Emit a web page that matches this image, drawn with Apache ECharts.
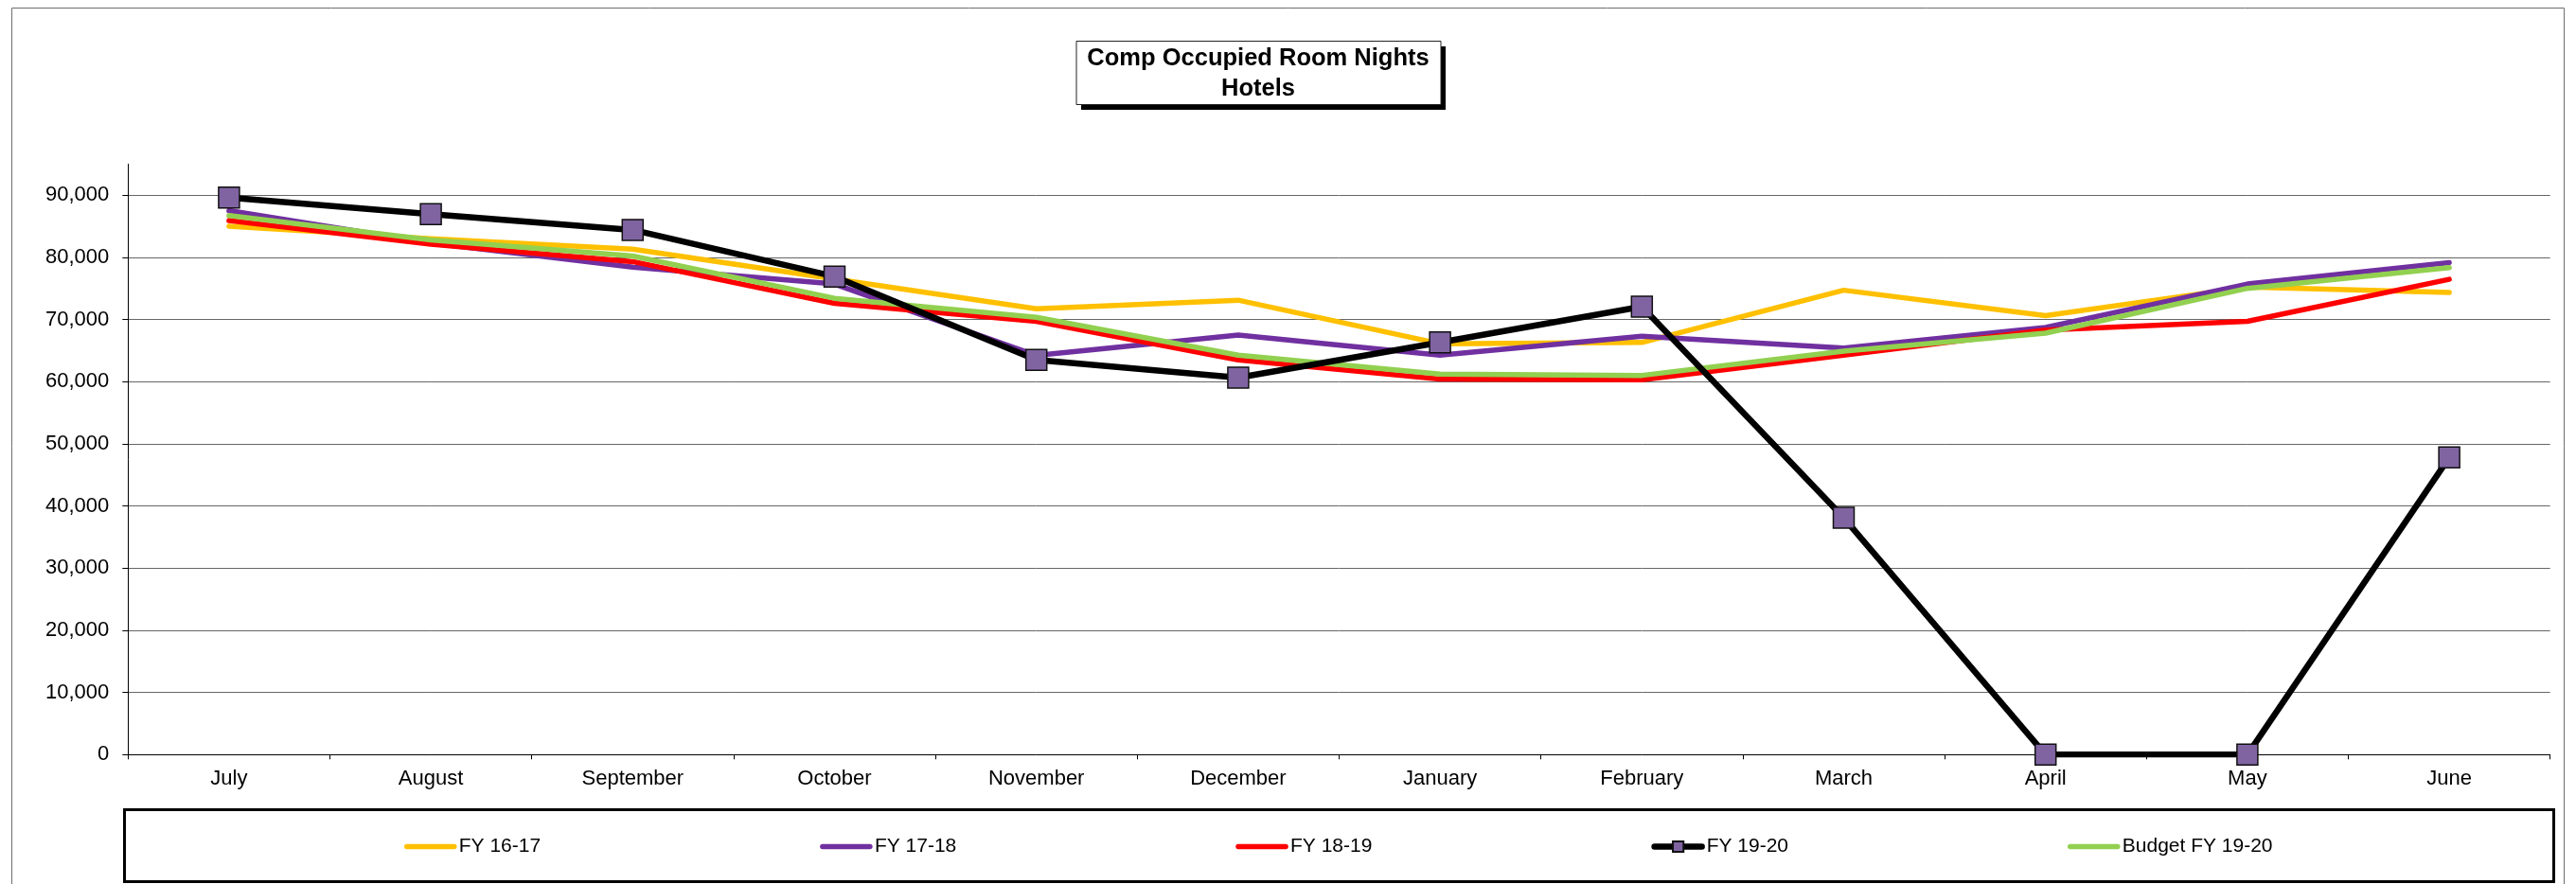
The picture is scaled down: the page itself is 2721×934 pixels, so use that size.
<!DOCTYPE html>
<html>
<head>
<meta charset="utf-8">
<script src="https://cdn.jsdelivr.net/npm/echarts@6/dist/echarts.min.js"></script>
<style>
  html, body { margin: 0; padding: 0; background: #fff; }
  #chart { width: 2721px; height: 934px; }
</style>
</head>
<body>
<div id="chart"></div>
<script>
// Fiscal-year months, July through June
const months = ['July', 'August', 'September', 'October', 'November', 'December',
                'January', 'February', 'March', 'April', 'May', 'June'];

// Comp occupied room nights per month
const fy1617   = [85000, 83000, 81300, 76500, 71700, 73100, 66100, 66300, 74700, 70600, 75200, 74350];
const fy1718   = [87500, 82300, 78400, 75700, 64200, 67500, 64250, 67300, 65400, 68700, 75700, 79150];
const fy1819   = [85900, 82100, 79300, 72600, 69700, 63500, 60400, 60300, 64250, 68300, 69700, 76450];
const fy1920   = [89600, 86950, 84400, 76900, 63500, 60650, 66300, 72050, 38100, 0, 0, 47800];
const budget1920 = [86700, 82800, 80200, 73400, 70350, 64250, 61200, 61000, 64900, 67800, 75000, 78350];

// Value axis tick labels
const yTicks = [0, 10000, 20000, 30000, 40000, 50000, 60000, 70000, 80000, 90000];

const FONT = '"Liberation Sans", Arial, Helvetica, sans-serif';

const chart = echarts.init(document.getElementById('chart'), null, { renderer: 'canvas' });

function lineSeries(name, data, color, z) {
  return {
    name: name,
    type: 'line',
    data: data,
    z: z,
    symbol: 'none',
    smooth: false,
    lineStyle: { color: color, width: 5.5, cap: 'round', join: 'round' },
    itemStyle: { color: color }
  };
}

function legendLine(name, color) {
  return {
    name: name,
    itemStyle: { opacity: 0 },
    lineStyle: { color: color, width: 5.5, cap: 'round' }
  };
}

const option = {
  animation: false,
  backgroundColor: '#fff',
  title: {
    text: 'Comp Occupied Room Nights\nHotels',
    left: 1329,
    top: 46,
    padding: 0,
    textAlign: 'center',
    textStyle: {
      fontFamily: FONT,
      fontSize: 25.5,
      fontWeight: 'bold',
      color: '#000',
      lineHeight: 32
    }
  },
  graphic: [
    // outer chart frame
    { type: 'rect', z: -10, silent: true,
      shape: { x: 12.5, y: 8.5, width: 2696, height: 1000 },
      style: { fill: null, stroke: '#6e6e6e', lineWidth: 1 } },
    // title box shadow and frame
    { type: 'rect', z: -5, silent: true,
      shape: { x: 1142, y: 49, width: 385, height: 67 },
      style: { fill: '#000' } },
    { type: 'rect', z: -4, silent: true,
      shape: { x: 1137, y: 43.5, width: 385, height: 67 },
      style: { fill: '#fff', stroke: '#222', lineWidth: 1 } },
    // legend frame
    { type: 'rect', z: -5, silent: true,
      shape: { x: 131.5, y: 855.5, width: 2566, height: 76 },
      style: { fill: '#fff', stroke: '#000', lineWidth: 3 } }
  ],
  legend: {
    left: 427,
    top: 884,
    padding: 0,
    itemWidth: 50,
    itemHeight: 14,
    itemGap: 295,
    textStyle: { fontFamily: FONT, fontSize: 21, color: '#000' },
    data: [
      legendLine('FY 16-17', '#FFC000'),
      legendLine('FY 17-18', '#7030A0'),
      legendLine('FY 18-19', '#FF0000'),
      { name: 'FY 19-20', lineStyle: { color: '#000', width: 6.5, cap: 'round' } },
      legendLine('Budget FY 19-20', '#92D050')
    ]
  },
  grid: {
    left: 135.3,
    right: 27.3,
    top: 173.3,
    bottom: 136.7,
    containLabel: false
  },
  xAxis: {
    type: 'category',
    data: months,
    boundaryGap: true,
    axisLine: { show: true, lineStyle: { color: '#000', width: 1 } },
    axisTick: { show: true, interval: 0, length: 5, lineStyle: { color: '#000', width: 1 } },
    axisLabel: {
      interval: 0,
      margin: 15,
      fontFamily: FONT,
      fontSize: 22,
      color: '#000'
    },
    splitLine: { show: false }
  },
  yAxis: {
    type: 'value',
    min: 0,
    max: 95000,
    interval: 10000,
    axisLine: { show: true, lineStyle: { color: '#000', width: 1 } },
    axisTick: {
      show: true, inside: false, length: 6,
      customValues: yTicks,
      lineStyle: { color: '#000', width: 1 }
    },
    axisLabel: {
      margin: 20,
      fontFamily: FONT,
      fontSize: 22,
      color: '#000',
      customValues: yTicks,
      formatter: function (v) { return v.toLocaleString('en-US'); }
    },
    splitLine: {
      show: true,
      lineStyle: { color: '#666', width: 1 }
    }
  },
  series: [
    lineSeries('FY 16-17', fy1617, '#FFC000', 2),
    lineSeries('FY 17-18', fy1718, '#7030A0', 3),
    lineSeries('FY 18-19', fy1819, '#FF0000', 4),
    lineSeries('Budget FY 19-20', budget1920, '#92D050', 5),
    {
      name: 'FY 19-20',
      type: 'line',
      data: fy1920,
      z: 6,
      symbol: 'rect',
      symbolSize: 22,
      showSymbol: true,
      lineStyle: { color: '#000', width: 6.5, cap: 'round', join: 'round' },
      itemStyle: { color: '#8064A2', borderColor: '#111', borderWidth: 1.5 }
    }
  ]
};

chart.setOption(option);
</script>
</body>
</html>
